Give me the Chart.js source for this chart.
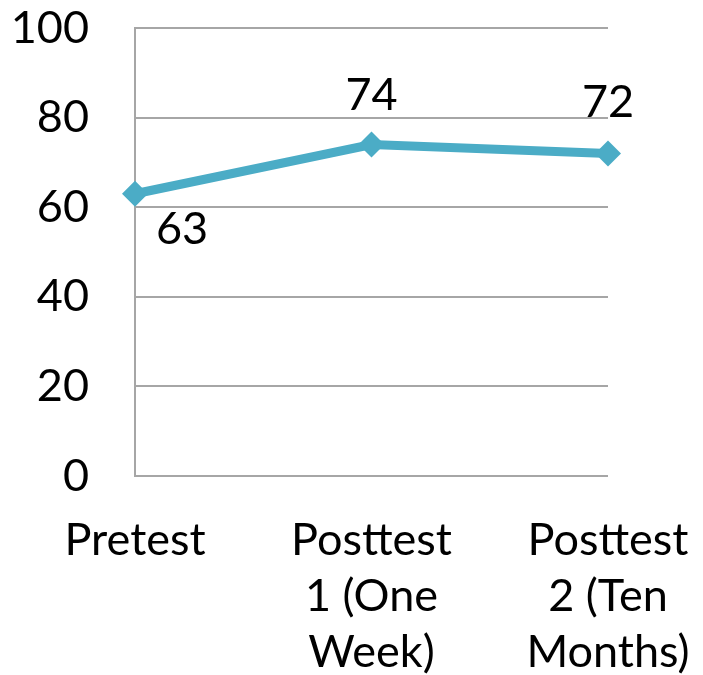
<!DOCTYPE html>
<html>
<head>
<meta charset="utf-8">
<script src="https://cdn.jsdelivr.net/npm/chart.js@4.4.0/dist/chart.umd.min.js"></script>
<style>
  html, body { margin: 0; padding: 0; background: #fff; }
  #wrap { width: 703px; height: 675px; }
</style>
</head>
<body>
<div id="wrap"><canvas id="chartCanvas" width="703" height="675"></canvas></div>
<script>
// data
const categories = [["Pretest"], ["Posttest", "1 (One", "Week)"], ["Posttest", "2 (Ten", "Months)"]];
const scores = [63, 74, 72];
const yTicks = [0, 20, 40, 60, 80, 100];

const FONT = "Lato, 'Open Sans', sans-serif";
const FONT_SIZE = 45;
const LINE_COLOR = "#4BACC6";

// value labels next to each point
const valueLabels = {
  id: "valueLabels",
  afterDatasetsDraw(chart) {
    const ctx = chart.ctx;
    const meta = chart.getDatasetMeta(0);
    const offsets = [[47, 36], [0, -49], [0, -51]];
    ctx.save();
    ctx.font = FONT_SIZE + "px " + FONT;
    ctx.fillStyle = "#000";
    ctx.textAlign = "center";
    ctx.textBaseline = "middle";
    meta.data.forEach((pt, i) => {
      ctx.fillText(String(scores[i]), pt.x + offsets[i][0], pt.y + offsets[i][1]);
    });
    ctx.restore();
  }
};

new Chart(document.getElementById("chartCanvas").getContext("2d"), {
  type: "line",
  data: {
    labels: categories,
    datasets: [{
      data: scores,
      borderColor: LINE_COLOR,
      backgroundColor: LINE_COLOR,
      borderWidth: 9,
      pointStyle: "rectRot",
      pointRadius: 13,
      pointHoverRadius: 13,
      pointBorderWidth: 0,
      tension: 0
    }]
  },
  options: {
    responsive: false,
    animation: false,
    layout: { autoPadding: false, padding: { top: 28, right: 95, left: 0, bottom: 0 } },
    plugins: { legend: { display: false }, tooltip: { enabled: false } },
    scales: {
      x: {
        offset: false,
        afterFit(axis) {
          axis.height = 199;
          axis.paddingLeft = 0;
          axis.paddingRight = 0;
        },
        grid: { display: false, drawTicks: false },
        border: { display: false },
        ticks: {
          color: "#000",
          padding: 36,
          maxRotation: 0,
          autoSkip: false,
          font: { family: FONT, size: FONT_SIZE, lineHeight: 1.25 }
        }
      },
      y: {
        min: 0,
        max: 100,
        afterFit(axis) {
          axis.width = 135;
          axis.paddingTop = 0;
          axis.paddingBottom = 0;
        },
        afterBuildTicks(axis) { axis.ticks = yTicks.map(v => ({ value: v })); },
        grid: { color: "#a6a6a6", lineWidth: 2, drawTicks: false },
        border: { display: true, color: "#a6a6a6", width: 2 },
        ticks: {
          color: "#000",
          padding: 46,
          font: { family: FONT, size: FONT_SIZE }
        }
      }
    }
  },
  plugins: [valueLabels]
});
</script>
</body>
</html>
